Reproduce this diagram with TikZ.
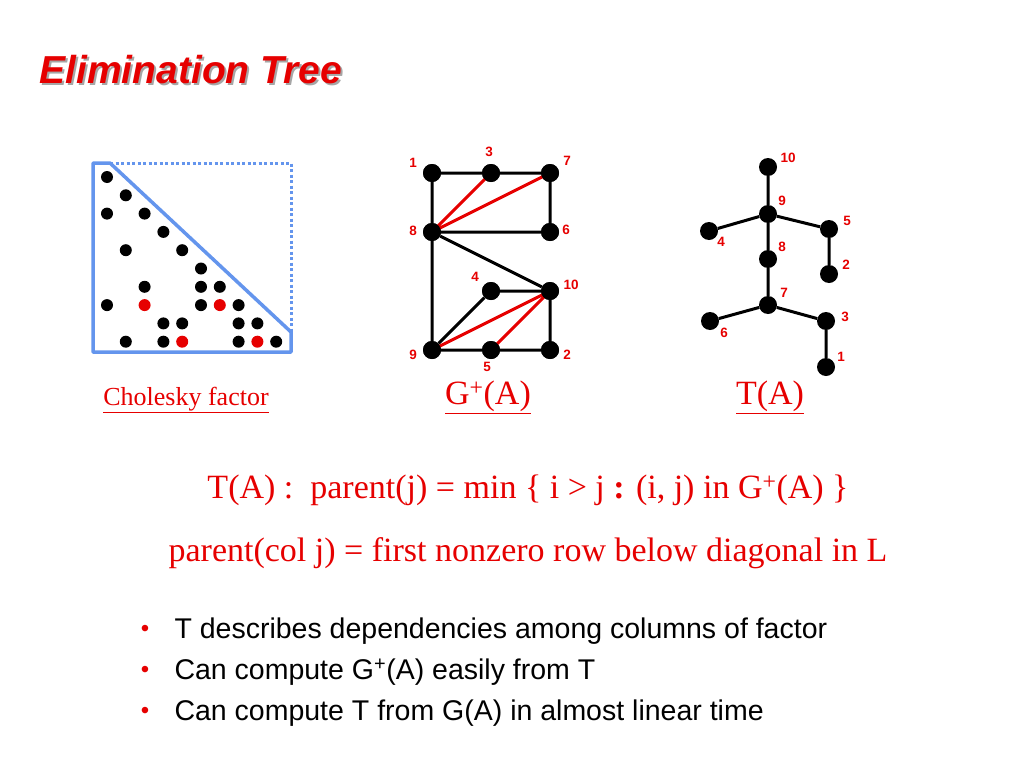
\documentclass[tikz,border=0pt]{standalone}
\usepackage{fontspec}
\setmainfont{Liberation Serif}
\newfontfamily\arialf{Liberation Sans}
\definecolor{tred}{RGB}{230,0,0}
\definecolor{tblue}{RGB}{100,149,237}
\begin{document}
\begin{tikzpicture}[x=1pt,y=-1pt,
  dot/.style={circle,fill=black,inner sep=0pt,minimum size=12pt},
  rdot/.style={circle,fill=tred,inner sep=0pt,minimum size=12pt},
  gv/.style={circle,fill=black,inner sep=0pt,minimum size=18pt},
  lbl/.style={text=tred,font=\arialf\bfseries\fontsize{13.5}{15}\selectfont},
  be/.style={line width=3pt},
  re/.style={line width=3pt,tred},
  red text/.style={text=tred,font=\fontsize{34}{38}\selectfont},
  bul/.style={anchor=west,font=\arialf\fontsize{28.5}{32}\selectfont}]
\useasboundingbox (0,0) rectangle (1024,768);
% title
\node[anchor=west,text=gray!70,font=\arialf\bfseries\itshape\fontsize{39}{44}\selectfont] at (38,72) {Elimination Tree};
\node[anchor=west,text=tred,font=\arialf\bfseries\itshape\fontsize{39}{44}\selectfont] (title) at (36,70) {Elimination Tree};
% matrix outline
\draw[tblue,line width=3.5pt,line join=round] (110,163) -- (93,163) -- (93,352) -- (291,352) -- (291,332) -- cycle;
\draw[tblue,line width=3pt,dash pattern=on 3pt off 2.5pt] (110,163) -- (291,163) -- (291,332);
% matrix dots
\foreach \r/\c/\s in {1/1/dot,2/2/dot,3/1/dot,3/3/dot,4/4/dot,5/2/dot,5/5/dot,6/6/dot,7/3/dot,7/6/dot,7/7/dot,8/1/dot,8/3/rdot,8/6/dot,8/7/rdot,8/8/dot,9/4/dot,9/5/dot,9/8/dot,9/9/dot,10/2/dot,10/4/dot,10/5/rdot,10/8/dot,10/9/rdot,10/10/dot}
  \node[\s] (m\r-\c) at ({107+18.8*(\c-1)},{177+18.3*(\r-1)}) {};
% G+(A)
\node[gv] (g1) at (432,173) {}; \node[gv] (g3) at (491,173) {}; \node[gv] (g7) at (550,173) {};
\node[gv] (g8) at (432,232) {}; \node[gv] (g6) at (550,232) {};
\node[gv] (g4) at (491,291) {}; \node[gv] (g10) at (550,291) {};
\node[gv] (g9) at (432,350) {}; \node[gv] (g5) at (491,350) {}; \node[gv] (g2) at (550,350) {};
\draw[be] (g1)--(g3) (g3)--(g7) (g7)--(g6) (g1)--(g8) (g8)--(g6) (g8)--(g10) (g8)--(g9) (g4)--(g10) (g4)--(g9) (g10)--(g2) (g9)--(g5) (g5)--(g2);
\draw[re] (g8.center)--(g3.center) (g8.center)--(g7.center) (g9.center)--(g10.center) (g5.center)--(g10.center);
\foreach \n in {g1,g3,g7,g8,g6,g4,g10,g9,g5,g2} \node[gv] at (\n) {};
\node[lbl] (lg1) at (413,163) {1}; \node[lbl] (lg3) at (489,152) {3}; \node[lbl] (lg7) at (567,161) {7};
\node[lbl] (lg8) at (413,231) {8}; \node[lbl] (lg6) at (566,230) {6}; \node[lbl] (lg4) at (475,277) {4};
\node[lbl] (lg10) at (571,285) {10}; \node[lbl] (lg9) at (413,355) {9}; \node[lbl] (lg5) at (487,367) {5};
\node[lbl] (lg2) at (567,355) {2};
% T(A)
\node[gv] (t10) at (768,167) {}; \node[gv] (t9) at (768,214) {}; \node[gv] (t4) at (709,231) {};
\node[gv] (t5) at (829,229) {}; \node[gv] (t8) at (768,259) {}; \node[gv] (t2) at (829,274) {};
\node[gv] (t7) at (768,305) {}; \node[gv] (t6) at (710,321) {}; \node[gv] (t3) at (826,321) {};
\node[gv] (t1) at (826,367) {};
\draw[be] (t10)--(t9) (t9)--(t4) (t9)--(t5) (t9)--(t8) (t5)--(t2) (t8)--(t7) (t7)--(t6) (t7)--(t3) (t3)--(t1);
\node[lbl] (lt10) at (788,158) {10}; \node[lbl] (lt9) at (782,201) {9}; \node[lbl] (lt5) at (847,221) {5};
\node[lbl] (lt4) at (721,242) {4}; \node[lbl] (lt8) at (782,247) {8}; \node[lbl] (lt2) at (846,265) {2};
\node[lbl] (lt7) at (784,293) {7}; \node[lbl] (lt3) at (845,317) {3}; \node[lbl] (lt6) at (724,333) {6};
\node[lbl] (lt1) at (841,357) {1};
% captions
\node[text=tred,font=\fontsize{26}{30}\selectfont] (chol) at (186,400) {\underline{Cholesky factor}};
\node[red text] (gcap) at (488,397) {\underline{G\textsuperscript{+}(A)}};
\node[red text] (tcap) at (770,397) {\underline{T(A)}};
% formulas
\node[red text] (f1) at (528,490) {T(A) :\ \ parent(j) = min \{ i > j \textbf{:} (i, j) in G\textsuperscript{+}(A) \}};
\node[red text] (f2) at (528,553) {parent(col j) = first nonzero row below diagonal in L};
% bullets
\foreach \y/\t in {631/T describes dependencies among columns of factor,672/Can compute G\textsuperscript{+}(A) easily from T,713/Can compute T from G(A) in almost linear time}{
  \node[text=tred,font=\arialf\fontsize{24}{26}\selectfont] at (145,\y) {•};
  \node[bul] at (171,\y) {\t};
}
\end{tikzpicture}
\end{document}
